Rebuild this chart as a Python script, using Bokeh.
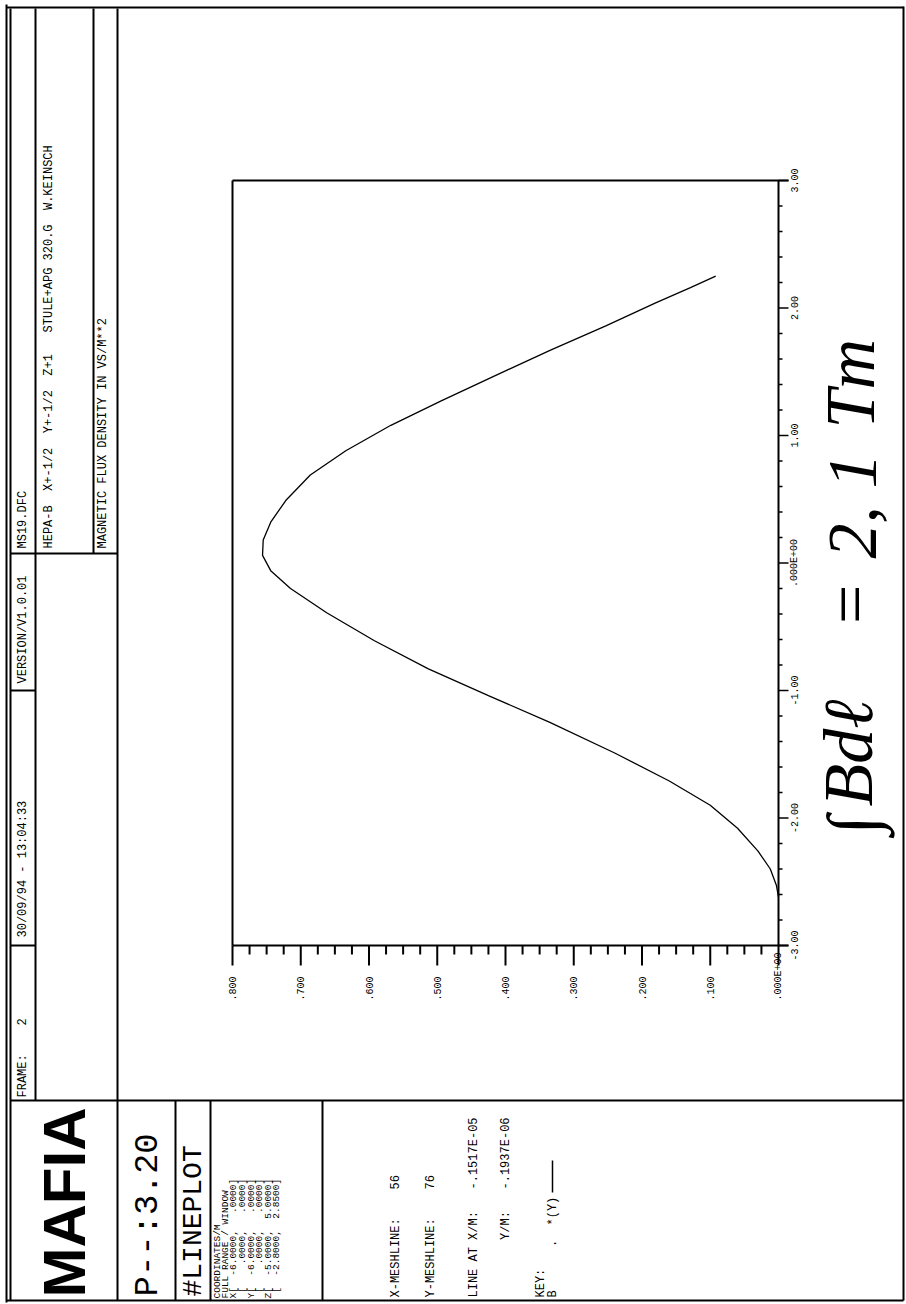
import numpy as np
from bokeh.plotting import figure
from bokeh.models import Range1d
from bokeh.core.properties import value
from bokeh.embed import file_html
from bokeh.resources import INLINE

# ---------------- data ----------------
z_pos = [-2.62, -2.53, -2.40, -2.26, -2.08, -1.90, -1.71, -1.49, -1.25, -1.04,
         -0.83, -0.61, -0.39, -0.20, -0.06, 0.06, 0.18, 0.32, 0.49, 0.69,
         0.88, 1.08, 1.27, 1.47, 1.67, 1.86, 2.04, 2.16, 2.25]
b_val = [0.000, 0.003, 0.012, 0.030, 0.060, 0.100, 0.160, 0.240, 0.335, 0.425,
         0.513, 0.592, 0.662, 0.715, 0.744, 0.756, 0.755, 0.744, 0.722, 0.686,
         0.634, 0.568, 0.495, 0.415, 0.334, 0.253, 0.180, 0.129, 0.092]

z_major = [-3.0, -2.0, -1.0, 0.0, 1.0, 2.0, 3.0]
z_labels = ["-3.00", "-2.00", "-1.00", ".000E+00", "1.00", "2.00", "3.00"]
b_major = [0.0, 0.1, 0.2, 0.3, 0.4, 0.5, 0.6, 0.7, 0.8]
b_labels = [".000E+00", ".100", ".200", ".300", ".400", ".500", ".600", ".700", ".800"]
b_minor = [0.025, 0.05, 0.075, 0.125, 0.15, 0.175, 0.225, 0.25, 0.275, 0.325, 0.35, 0.375,
           0.425, 0.45, 0.475, 0.525, 0.55, 0.575, 0.625, 0.65, 0.675, 0.725, 0.75, 0.775]
z_minor = [-2.8, -2.6, -2.4, -2.2, -1.8, -1.6, -1.4, -1.2, -0.8, -0.6, -0.4, -0.2,
           0.2, 0.4, 0.6, 0.8, 1.2, 1.4, 1.6, 1.8, 2.2, 2.4, 2.6, 2.8]

header_fields = ["FRAME:    2", "30/09/94 - 13:04:33", "VERSION/V1.0.01", "MS19.DFC"]
title_line = "HEPA-B  X+-1/2  Y+-1/2  Z+1   STULE+APG 320.G  W.KEINSCH"
quantity_line = "MAGNETIC FLUX DENSITY IN VS/M**2"
program_name = "MAFIA"
version_code = "P--:3.20"
command_name = "#LINEPLOT"
coord_lines = ["COORDINATES/M",
               "FULL RANGE / WINDOW",
               "X[  -6.0000,   .0000]",
               " [    .0000,   .0000]",
               "Y[  -6.0000,   .0000]",
               " [    .0000,   .0000]",
               "Z[  -5.0000,  5.0000]",
               " [  -2.8000,  2.8500]"]
mesh_lines = ["X-MESHLINE:    56",
              "Y-MESHLINE:    76",
              "LINE AT X/M:   -.1517E-05",
              "        Y/M:   -.1937E-06",
              "KEY:",
              "B      .  *(Y)"]
annotation_parts = ["\u222B", "Bd\u2113", "=", "2, 1", "Tm"]


def keep_spaces(items):
    return [s.replace(" ", "\u00a0") for s in items]


# ---------------- page geometry ----------------
W, H = 906, 1304
B0_PX, B_PX = 778.0, 682.5      # screen x of B=0, px per unit of B (B grows leftwards)
Z0_PX, Z_PX = 945.0, 127.5      # screen y of z=-3, px per unit of z (z grows upwards)

p = figure(width=W, height=H, x_range=Range1d(0, W), y_range=Range1d(H, 0),
           output_backend="svg", toolbar_location=None, min_border=0,
           x_axis_location=None, y_axis_location=None)
p.grid.visible = False
p.outline_line_color = None
p.background_fill_color = "white"
p.border_fill_color = "white"

p.extra_x_ranges = {"b": Range1d(start=B0_PX / B_PX, end=(B0_PX - W) / B_PX)}
p.extra_y_ranges = {"z": Range1d(start=-3 + (Z0_PX - H) / Z_PX, end=-3 + Z0_PX / Z_PX)}

MONO = value("Liberation Mono")
R = np.pi / 2

# ---------------- page frame ----------------
fx0 = [6, 10, 6, 6, 903, 35, 93, 117, 10, 10, 175, 210, 322, 10, 10]
fy0 = [4, 8, 7, 1300, 6, 8, 8, 8, 553, 1100, 1100, 1100, 1100, 690, 945]
fx1 = [6, 10, 903, 903, 903, 35, 93, 117, 117, 903, 175, 210, 322, 35, 35]
fy1 = [1302, 1300, 7, 1300, 1300, 1100, 553, 1300, 553, 1100, 1300, 1300, 1300, 690, 945]
p.segment(x0=fx0, y0=fy0, x1=fx1, y1=fy1, line_color="black", line_width=2)

# header texts
p.text(x=[22, 22, 22, 22], y=[1097, 937, 683, 548], text=keep_spaces(header_fields), angle=R,
       text_align="left", text_baseline="middle", text_font=MONO,
       text_font_size="12px", text_color="black")
p.text(x=[48], y=[548], text=keep_spaces([title_line]), angle=R, text_align="left",
       text_baseline="middle", text_font=MONO, text_font_size="12px", text_color="black")
p.text(x=[102], y=[548], text=keep_spaces([quantity_line]), angle=R, text_align="left",
       text_baseline="middle", text_font=MONO, text_font_size="12px", text_color="black")

# bottom blocks
p.text(x=[64], y=[1297], text=[program_name], angle=R, text_align="left",
       text_baseline="middle", text_font=value("Liberation Sans"), text_font_style="bold",
       text_font_size="60px", text_color="black")
p.text(x=[147], y=[1296], text=[version_code], angle=R, text_align="left",
       text_baseline="middle", text_font=MONO, text_font_size="34px", text_color="black")
p.text(x=[193], y=[1296], text=[command_name], angle=R, text_align="left",
       text_baseline="middle", text_font=MONO, text_font_size="28px", text_color="black")
p.text(x=[217, 225, 233, 242, 251, 259, 268, 276], y=[1298] * 8, text=keep_spaces(coord_lines),
       angle=R, text_align="left", text_baseline="middle", text_font=MONO,
       text_font_size="9.5px", text_color="black")
p.text(x=[395, 430, 473, 505, 540, 552], y=[1297] * 6, text=keep_spaces(mesh_lines), angle=R,
       text_align="left", text_baseline="middle", text_font=MONO,
       text_font_size="12px", text_color="black")
p.segment(x0=[552], y0=[1192], x1=[552], y1=[1160], line_color="black", line_width=1.5)

# ---------------- chart ----------------
bmin, bmax = b_major[0], b_major[-1]
zmin, zmax = z_major[0], z_major[-1]
# box
p.segment(x0=[bmax, bmin, bmax, bmax], y0=[zmin, zmin, zmax, zmin],
          x1=[bmax, bmin, -10 / B_PX, -10 / B_PX], y1=[zmax, zmax, zmax, zmin],
          x_range_name="b", y_range_name="z", line_color="black", line_width=2)
# bottom ticks (B axis)
p.segment(x0=b_major, x1=b_major, y0=[zmin] * len(b_major),
          y1=[zmin - 20 / Z_PX] * len(b_major),
          x_range_name="b", y_range_name="z", line_color="black", line_width=2)
p.segment(x0=b_minor, x1=b_minor, y0=[zmin] * len(b_minor),
          y1=[zmin - 9 / Z_PX] * len(b_minor),
          x_range_name="b", y_range_name="z", line_color="black", line_width=2)
# right ticks (z axis)
p.segment(x0=[bmin] * len(z_major), x1=[bmin - 10 / B_PX] * len(z_major), y0=z_major, y1=z_major,
          x_range_name="b", y_range_name="z", line_color="black", line_width=1.5)
p.segment(x0=[bmin] * len(z_minor), x1=[bmin - 4 / B_PX] * len(z_minor), y0=z_minor, y1=z_minor,
          x_range_name="b", y_range_name="z", line_color="black", line_width=1.5)
# tick labels
p.text(x=b_major, y=[1000] * len(b_major), text=b_labels, angle=R, x_range_name="b",
       text_align="left", text_baseline="middle", text_font=MONO,
       text_font_size="10px", text_color="black")
p.text(x=[794] * len(z_major), y=z_major, text=z_labels, angle=R, y_range_name="z",
       text_align="center", text_baseline="middle", text_font=MONO,
       text_font_size="10px", text_color="black")
# curve
p.line(x=b_val, y=z_pos, x_range_name="b", y_range_name="z", line_color="black", line_width=1.3)

# handwritten note
p.text(x=[852, 848, 850, 852, 850], y=[834, 806, 628, 558, 428], text=keep_spaces(annotation_parts),
       angle=R, text_align="left", text_baseline="middle",
       text_font=value("Liberation Serif"), text_font_style="italic", text_font_size="70px",
       text_color="black")

open("out.html", "w").write(file_html(p, INLINE))
